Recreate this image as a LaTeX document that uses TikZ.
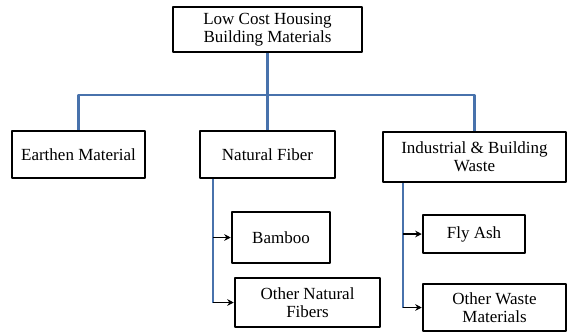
\documentclass[tikz,border=0pt]{standalone}
\usepackage{fontspec}
\setmainfont{Liberation Serif}
\usetikzlibrary{arrows.meta}
\definecolor{linkblue}{RGB}{72,114,172}
\begin{document}
\begin{tikzpicture}[x=1pt, y=-1pt, line join=round, >={Stealth[length=6.5pt,width=6.5pt]},
  font=\fontsize{17}{18}\selectfont,
  box/.style={draw, line width=2.5pt, align=center, inner sep=0pt},
  link/.style={draw=linkblue, line width=2.2pt},
  tip/.style={->, line width=1.8pt}]
\useasboundingbox (0,0) rectangle (568,333);
\node[box, minimum width=189, minimum height=45] (top) at (267.5,29.5) {Low Cost Housing\\Building Materials};
\node[box, minimum width=133, minimum height=47] (earth) at (78.5,154.5) {Earthen Material};
\node[box, minimum width=135, minimum height=47] (nat) at (267.5,154.5) {Natural Fiber};
\node[box, minimum width=183, minimum height=50] (ind) at (474.5,157) {Industrial \& Building\\Waste};
\node[box, minimum width=98, minimum height=51] (bam) at (281,237.5) {Bamboo};
\node[box, minimum width=145, minimum height=49] (onat) at (307.5,302.5) {Other Natural\\Fibers};
\node[box, minimum width=102, minimum height=38] (fly) at (474,234) {Fly Ash};
\node[box, minimum width=143, minimum height=47] (owaste) at (494.5,307.5) {Other Waste\\Materials};
\coordinate (bar) at (267.5,95);
% top level
\draw[link] (top) -- (nat);
\draw[link] (earth.north) |- (bar) -| (ind.north);
% natural fiber branch
\draw[link] ([xshift=-54.5]nat.south) coordinate (nbr) -- (nbr |- onat.west);
\draw[tip] (nbr |- bam.west) -- (bam.west);
\draw[tip] (nbr |- onat.west) -- (onat.west);
% waste branch
\draw[link] ([xshift=-71.5]ind.south) coordinate (wbr) -- (wbr |- owaste.west);
\draw[tip] (wbr |- fly.west) -- (fly.west);
\draw[tip] (wbr |- owaste.west) -- (owaste.west);
\end{tikzpicture}
\end{document}
